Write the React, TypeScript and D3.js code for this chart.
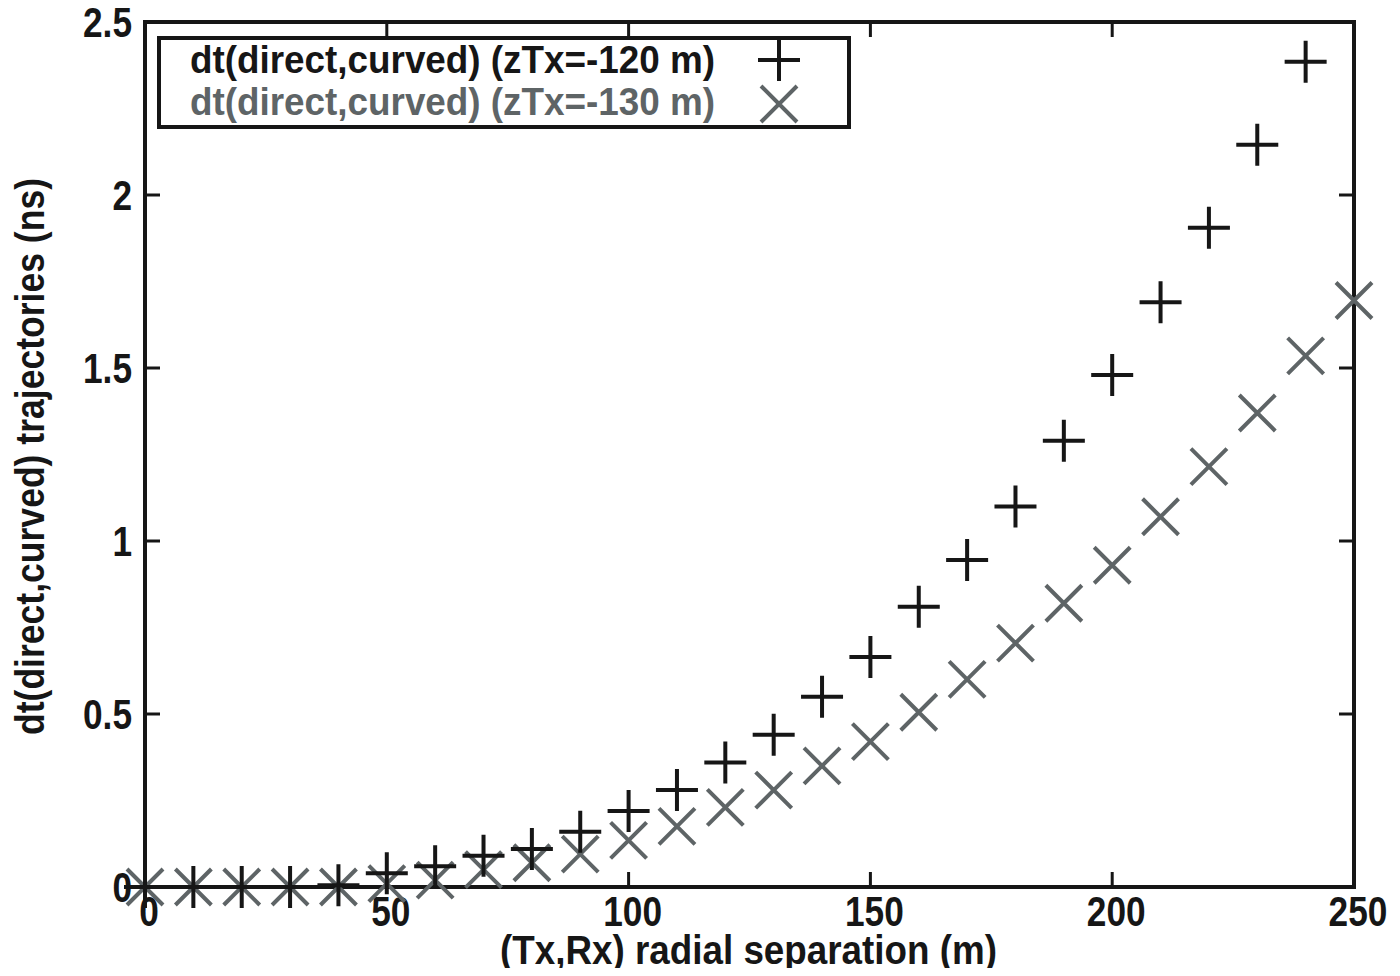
import React, { useRef, useEffect } from "react";
import * as d3 from "d3";

// separation (m)
const sepPlus = [0, 10, 20, 30, 40, 50, 60, 70, 80, 90, 100, 110, 120, 130, 140, 150, 160, 170, 180, 190, 200, 210, 220, 230, 240];
const dtPlus = [0, 0, 0, 0, 0.005, 0.04, 0.06, 0.09, 0.11, 0.16, 0.22, 0.28, 0.36, 0.44, 0.55, 0.665, 0.81, 0.945, 1.1, 1.29, 1.48, 1.69, 1.905, 2.145, 2.385];

const sepCross = [0, 10, 20, 30, 40, 50, 60, 70, 80, 90, 100, 110, 120, 130, 140, 150, 160, 170, 180, 190, 200, 210, 220, 230, 240, 250];
const dtCross = [0, 0, 0, 0, 0, 0.01, 0.02, 0.05, 0.07, 0.095, 0.135, 0.175, 0.23, 0.28, 0.35, 0.42, 0.505, 0.6, 0.705, 0.82, 0.93, 1.07, 1.215, 1.37, 1.535, 1.695];

const xTicks = [0, 50, 100, 150, 200, 250];
const yTicks = [0, 0.5, 1, 1.5, 2, 2.5];

const legendLabels = ["dt(direct,curved) (zTx=-120 m)", "dt(direct,curved) (zTx=-130 m)"];

const FONT = "'Liberation Sans', Arial, sans-serif";
const DARK = "#161616";
const GREY = "#5e6466";

const App = () => {
  const svgRef = useRef(null);
  const width = 1400;
  const height = 976;

  useEffect(() => {
    const svg = d3.select(svgRef.current);
    svg.selectAll("*").remove();

    const x = d3.scaleLinear().domain([0, 250]).range([145, 1354]);
    const y = d3.scaleLinear().domain([0, 2.5]).range([887, 22]);

    svg.append("rect").attr("width", width).attr("height", height).attr("fill", "#fff");

    // ticks (inward, all four sides)
    const tk = svg.append("g").attr("stroke", DARK).attr("stroke-width", 3);
    xTicks.forEach(v => {
      tk.append("line").attr("x1", x(v)).attr("x2", x(v)).attr("y1", y(0)).attr("y2", y(0) - 15);
      tk.append("line").attr("x1", x(v)).attr("x2", x(v)).attr("y1", y(2.5)).attr("y2", y(2.5) + 15);
    });
    yTicks.forEach(v => {
      tk.append("line").attr("x1", x(0)).attr("x2", x(0) + 15).attr("y1", y(v)).attr("y2", y(v));
      tk.append("line").attr("x1", x(250)).attr("x2", x(250) - 15).attr("y1", y(v)).attr("y2", y(v));
    });

    // frame
    svg.append("rect")
      .attr("x", x(0)).attr("y", y(2.5))
      .attr("width", x(250) - x(0)).attr("height", y(0) - y(2.5))
      .attr("fill", "none").attr("stroke", DARK).attr("stroke-width", 4);

    // tick labels (condensed)
    svg.append("g").selectAll("text")
      .data(xTicks).join("text")
      .attr("transform", d => `translate(${x(d) + 4},926) scale(0.82,1)`)
      .attr("text-anchor", "middle")
      .attr("font-family", FONT).attr("font-weight", "bold").attr("font-size", 43)
      .attr("fill", DARK)
      .text(d => d);

    svg.append("g").selectAll("text")
      .data(yTicks).join("text")
      .attr("transform", d => `translate(132,${y(d) + 15}) scale(0.82,1)`)
      .attr("text-anchor", "end")
      .attr("font-family", FONT).attr("font-weight", "bold").attr("font-size", 43)
      .attr("fill", DARK)
      .text(d => d);

    // axis labels
    svg.append("text")
      .attr("x", 500).attr("y", 964)
      .attr("textLength", 497).attr("lengthAdjust", "spacingAndGlyphs")
      .attr("font-family", FONT).attr("font-weight", "bold").attr("font-size", 40)
      .attr("fill", DARK)
      .text("(Tx,Rx) radial separation (m)");

    svg.append("text")
      .attr("transform", "translate(44,735) rotate(-90)")
      .attr("textLength", 557).attr("lengthAdjust", "spacingAndGlyphs")
      .attr("font-family", FONT).attr("font-weight", "bold").attr("font-size", 40)
      .attr("fill", DARK)
      .text("dt(direct,curved) trajectories (ns)");

    const plus = (g, cx, cy, color) => {
      g.append("path")
        .attr("d", `M${cx - 21},${cy}H${cx + 21}M${cx},${cy - 21}V${cy + 21}`)
        .attr("stroke", color).attr("stroke-width", 4).attr("fill", "none");
    };
    const cross = (g, cx, cy, color) => {
      g.append("path")
        .attr("d", `M${cx - 18},${cy - 18}L${cx + 18},${cy + 18}M${cx - 18},${cy + 18}L${cx + 18},${cy - 18}`)
        .attr("stroke", color).attr("stroke-width", 4).attr("fill", "none");
    };

    // data
    const gCross = svg.append("g");
    sepCross.forEach((s, i) => cross(gCross, x(s), y(dtCross[i]), GREY));
    const gPlus = svg.append("g");
    sepPlus.forEach((s, i) => plus(gPlus, x(s), y(dtPlus[i]), DARK));

    // legend
    const lg = svg.append("g");
    lg.append("rect")
      .attr("x", 159).attr("y", 38).attr("width", 690).attr("height", 89)
      .attr("fill", "#fff").attr("stroke", DARK).attr("stroke-width", 4);
    [DARK, GREY].forEach((c, i) => {
      lg.append("text")
        .attr("x", 190).attr("y", 73 + i * 42)
        .attr("textLength", 525).attr("lengthAdjust", "spacingAndGlyphs")
        .attr("font-family", FONT).attr("font-weight", "bold").attr("font-size", 38)
        .attr("fill", c)
        .text(legendLabels[i]);
    });
    plus(lg, 779, 60, DARK);
    cross(lg, 779, 104, GREY);
  }, []);

  return <svg ref={svgRef} width={width} height={height} style={{ display: "block", margin: -8 }} />;
};

export default App;
